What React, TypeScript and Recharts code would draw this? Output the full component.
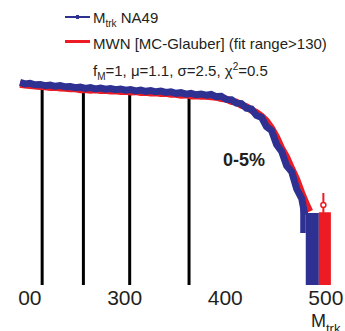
import React from 'react';
import { ComposedChart, Line, Area, Scatter, ErrorBar, XAxis, YAxis, ReferenceLine } from 'recharts';

// Track multiplicity (M_trk) bins and log10 P(M)
const na49M = [
  196, 201, 206, 211, 216, 221, 226, 231, 236, 241, 246, 251, 256, 261, 266, 271, 276, 281, 286, 291,
  296, 301, 306, 311, 316, 321, 326, 331, 336, 341, 346, 351, 356, 361, 366, 371, 376, 381, 386, 391,
  396, 401, 406, 411, 416, 421, 426, 431, 436, 441, 446, 451, 456, 461, 466, 471, 476, 479,
];
const na49LogP = [
  -2.468, -2.486, -2.479, -2.497, -2.493, -2.509, -2.5, -2.516, -2.507, -2.523, -2.519, -2.534, -2.527, -2.542,
  -2.533, -2.548, -2.538, -2.553, -2.545, -2.559, -2.55, -2.565, -2.556, -2.573, -2.563, -2.579, -2.569, -2.585,
  -2.576, -2.592, -2.586, -2.604, -2.596, -2.614, -2.604, -2.622, -2.612, -2.628, -2.618, -2.645, -2.642, -2.68,
  -2.684, -2.727, -2.732, -2.79, -2.8, -2.88, -2.905, -3.02, -3.07, -3.245, -3.33, -3.51, -3.585, -3.8, -3.92,
  -4.12,
];

const mwnM = [
  196, 201, 206, 211, 216, 221, 226, 231, 236, 241, 246, 251, 256, 261, 266, 271, 276, 281, 286, 291,
  296, 301, 306, 311, 316, 321, 326, 331, 336, 341, 346, 351, 356, 361, 366, 371, 376, 381, 386, 391,
  396, 401, 406, 411, 416, 421, 426, 431, 436, 441, 446, 451, 456, 461, 466, 471, 476, 481, 484,
];
const mwnLogP = [
  -2.49, -2.5, -2.505, -2.512, -2.52, -2.522, -2.53, -2.528, -2.538, -2.54, -2.548, -2.548, -2.558, -2.556,
  -2.565, -2.561, -2.569, -2.566, -2.575, -2.573, -2.581, -2.578, -2.587, -2.583, -2.594, -2.59, -2.6, -2.597,
  -2.606, -2.605, -2.616, -2.615, -2.627, -2.624, -2.636, -2.634, -2.642, -2.64, -2.648, -2.652, -2.668, -2.676,
  -2.705, -2.715, -2.752, -2.77, -2.815, -2.845, -2.89, -2.95, -3.04, -3.15, -3.29, -3.4, -3.545, -3.68, -3.85,
  -4.0, -4.08,
];

// last (wide) bins
const na49TailBinM = [480, 493];
const na49TailLogP = -4.1;
const na49TailBoxM = [474.5, 480];
const na49TailBoxLogP = [-4.35, -3.95];
const mwnTailBinM = [493, 505];
const mwnTailLogP = -4.09;
const mwnTailPointM = 497.5;
const mwnTailPointLogP = -4.0;
const mwnTailPointErr = [0.1, 0.15];

// centrality class boundaries
const centralityEdgesM = [218, 259, 305, 364];
const centralityEdgesLogP = [-2.52, -2.555, -2.58, -2.63];

const xTicks = [200, 300, 400, 500];
const xDomain = [194, 519];
const yDomain = [-5, -2];

const BLUE = '#2e3192';
const RED = '#ed1c24';
const TEXT = '#231f20';
const FONT = '"Liberation Sans", Arial, sans-serif';

const na49Data = na49M.map((m, i) => ({ m, logP: na49LogP[i] }));
const mwnData = mwnM.map((m, i) => ({ m, logP: mwnLogP[i] }));
const na49TailData = na49TailBinM.map((m) => ({ m, logP: na49TailLogP }));
const na49BoxData = na49TailBoxM.map((m) => ({ m, range: na49TailBoxLogP }));
const mwnTailData = mwnTailBinM.map((m) => ({ m, logP: mwnTailLogP }));
const mwnPointData = [{ m: mwnTailPointM, logP: mwnTailPointLogP, err: mwnTailPointErr }];

const abs = (left: number, top: number, extra: React.CSSProperties = {}): React.CSSProperties => ({
  position: 'absolute',
  left,
  top,
  whiteSpace: 'nowrap',
  fontFamily: FONT,
  color: TEXT,
  lineHeight: 1,
  ...extra,
});

export default function App() {
  return (
    <div style={{ position: 'absolute', left: 0, top: 0, width: 345, height: 331, background: '#fff', overflow: 'hidden' }}>
      <div style={{ position: 'absolute', left: 18, top: 0, width: 327, height: 331, overflow: 'hidden' }}>
        <ComposedChart width={327} height={331} margin={{ top: 45, right: 0, bottom: 0, left: 0 }}>
          <XAxis
            dataKey="m"
            type="number"
            domain={xDomain}
            ticks={xTicks}
            interval={0}
            allowDataOverflow
            axisLine={false}
            tickLine={false}
            tickSize={3}
            tickMargin={2}
            height={46}
            tick={{ fontSize: 21, fontFamily: FONT, fill: TEXT }}
          />
          <YAxis type="number" domain={yDomain} allowDataOverflow hide width={0} />
          {centralityEdgesM.map((m, i) => (
            <ReferenceLine
              key={m}
              segment={[
                { x: m, y: yDomain[0] },
                { x: m, y: centralityEdgesLogP[i] },
              ]}
              stroke="#000"
              strokeWidth={3}
              ifOverflow="visible"
            />
          ))}
          <Area data={na49BoxData} dataKey="range" type="linear" fill={BLUE} fillOpacity={1} stroke="none" isAnimationActive={false} />
          <Area data={na49TailData} dataKey="logP" type="linear" baseValue={yDomain[0]} fill={BLUE} fillOpacity={1} stroke="none" isAnimationActive={false} />
          <Area data={mwnTailData} dataKey="logP" type="linear" baseValue={yDomain[0]} fill={RED} fillOpacity={1} stroke="none" isAnimationActive={false} />
          <Line data={mwnData} dataKey="logP" type="linear" stroke={RED} strokeWidth={7} dot={false} isAnimationActive={false} />
          <Line data={na49Data} dataKey="logP" type="linear" stroke={BLUE} strokeWidth={7} dot={false} isAnimationActive={false} />
          <Scatter
            data={mwnPointData}
            dataKey="logP"
            isAnimationActive={false}
            shape={(p: any) => <circle cx={p.cx} cy={p.cy} r={2.5} fill="#fff" stroke={RED} strokeWidth={1.5} />}
          >
            <ErrorBar dataKey="err" direction="y" width={0} stroke={RED} strokeWidth={2} />
          </Scatter>
        </ComposedChart>
      </div>

      {/* legend */}
      <div style={{ position: 'absolute', left: 65, top: 16, width: 25, height: 2, background: BLUE }} />
      <div style={{ position: 'absolute', left: 76, top: 15, width: 3, height: 4, background: BLUE }} />
      <div style={abs(93, 9.5, { fontSize: 15 })}>
        M<sub style={{ fontSize: 10, verticalAlign: 'baseline', position: 'relative', top: 4 }}>trk</sub> NA49
      </div>
      <div style={{ position: 'absolute', left: 65, top: 40, width: 25, height: 3, background: RED }} />
      <div style={abs(93, 35.5, { fontSize: 15 })}>MWN [MC-Glauber] (fit range&gt;130)</div>
      <div style={abs(93, 62.5, { fontSize: 15 })}>
        f<sub style={{ fontSize: 10, verticalAlign: 'baseline', position: 'relative', top: 4 }}>M</sub>=1, μ=1.1, σ=2.5, χ
        <sup style={{ fontSize: 10, verticalAlign: 'baseline', position: 'relative', top: -6 }}>2</sup>=0.5
      </div>

      {/* centrality class label */}
      <div style={abs(223, 151, { fontSize: 18, fontWeight: 'bold' })}>0-5%</div>

      {/* axis title */}
      <div style={abs(311, 312, { fontSize: 18 })}>
        M<sub style={{ fontSize: 13, verticalAlign: 'baseline', position: 'relative', top: 6 }}>trk</sub>
      </div>
    </div>
  );
}
